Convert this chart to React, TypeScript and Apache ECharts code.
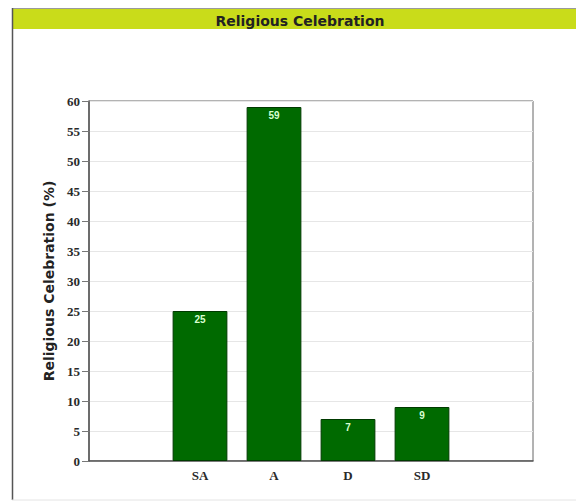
import React, { useEffect, useRef } from "react";
import * as echarts from "echarts";

const categories = ["SA", "A", "D", "SD"];
const values = [25, 59, 7, 9];
const yTicks = { min: 0, max: 60, interval: 5 };
const titleText = "Religious Celebration";
const yAxisName = "Religious Celebration (%)";

export default function App() {
  const ref = useRef<HTMLDivElement>(null);
  useEffect(() => {
    if (!ref.current) return;
    const chart = echarts.init(ref.current, null, { renderer: "svg" });
    const cats = ["", ...categories, ""];
    const vals: any[] = ["-", ...values, "-"];
    chart.setOption({
      animation: false,
      backgroundColor: "#ffffff",
      graphic: [
        { type: "rect", left: 4, top: 1, shape: { width: 580, height: 20 }, style: { fill: "#c9dc1a" }, z: 0 },
        { type: "line", shape: { x1: 4, y1: 0.5, x2: 576, y2: 0.5 }, style: { stroke: "#9a9a9a", lineWidth: 1 } },
        { type: "line", shape: { x1: 4.5, y1: 0, x2: 4.5, y2: 492 }, style: { stroke: "#555555", lineWidth: 1.5 } },
        { type: "line", shape: { x1: 4, y1: 492, x2: 576, y2: 492 }, style: { stroke: "#e4e4e4", lineWidth: 1 } },
      ],
      title: {
        text: titleText,
        left: 287,
        textAlign: "center",
        top: 1,
        textStyle: { fontFamily: "DejaVu Sans, Verdana, sans-serif", fontWeight: "bold", fontSize: 14, color: "#222222" },
      },
      grid: {
        left: 81,
        top: 93,
        right: 51,
        bottom: 43,
        show: true,
        borderColor: "#666",
        borderWidth: 1,
        backgroundColor: "#fff",
      },
      xAxis: {
        type: "category",
        data: cats,
        axisLine: { lineStyle: { color: "#555", width: 1.5 } },
        axisTick: { show: false },
        axisLabel: {
          fontFamily: "Liberation Serif, Times New Roman, serif",
          fontWeight: "bold",
          fontSize: 13,
          color: "#2a2a2a",
          margin: 8,
          interval: 0,
        },
      },
      yAxis: {
        type: "value",
        min: yTicks.min,
        max: yTicks.max,
        interval: yTicks.interval,
        name: yAxisName,
        nameLocation: "middle",
        nameGap: 33,
        nameTextStyle: { fontFamily: "DejaVu Sans, Verdana, sans-serif", fontWeight: "bold", fontSize: 14, color: "#222222" },
        axisLine: { show: true, lineStyle: { color: "#555", width: 1.5 } },
        axisTick: { show: true, length: 7, lineStyle: { color: "#777" } },
        axisLabel: {
          fontFamily: "Liberation Serif, Times New Roman, serif",
          fontWeight: "bold",
          fontSize: 13,
          color: "#2a2a2a",
          margin: 9,
        },
        splitLine: { show: true, lineStyle: { color: "#e6e6e6" } },
      },
      series: [
        {
          type: "bar",
          data: vals,
          barWidth: "74%",
          itemStyle: { color: "#006a00", borderColor: "#003a00", borderWidth: 1 },
          label: {
            show: true,
            position: "insideTop",
            distance: 3,
            color: "#d8ffd0",
            fontSize: 10,
            fontWeight: "bold",
            fontFamily: "Liberation Sans, Arial, sans-serif",
          },
        },
      ],
    });
    return () => chart.dispose();
  }, []);
  return <div ref={ref} style={{ width: 576, height: 496 }} />;
}
